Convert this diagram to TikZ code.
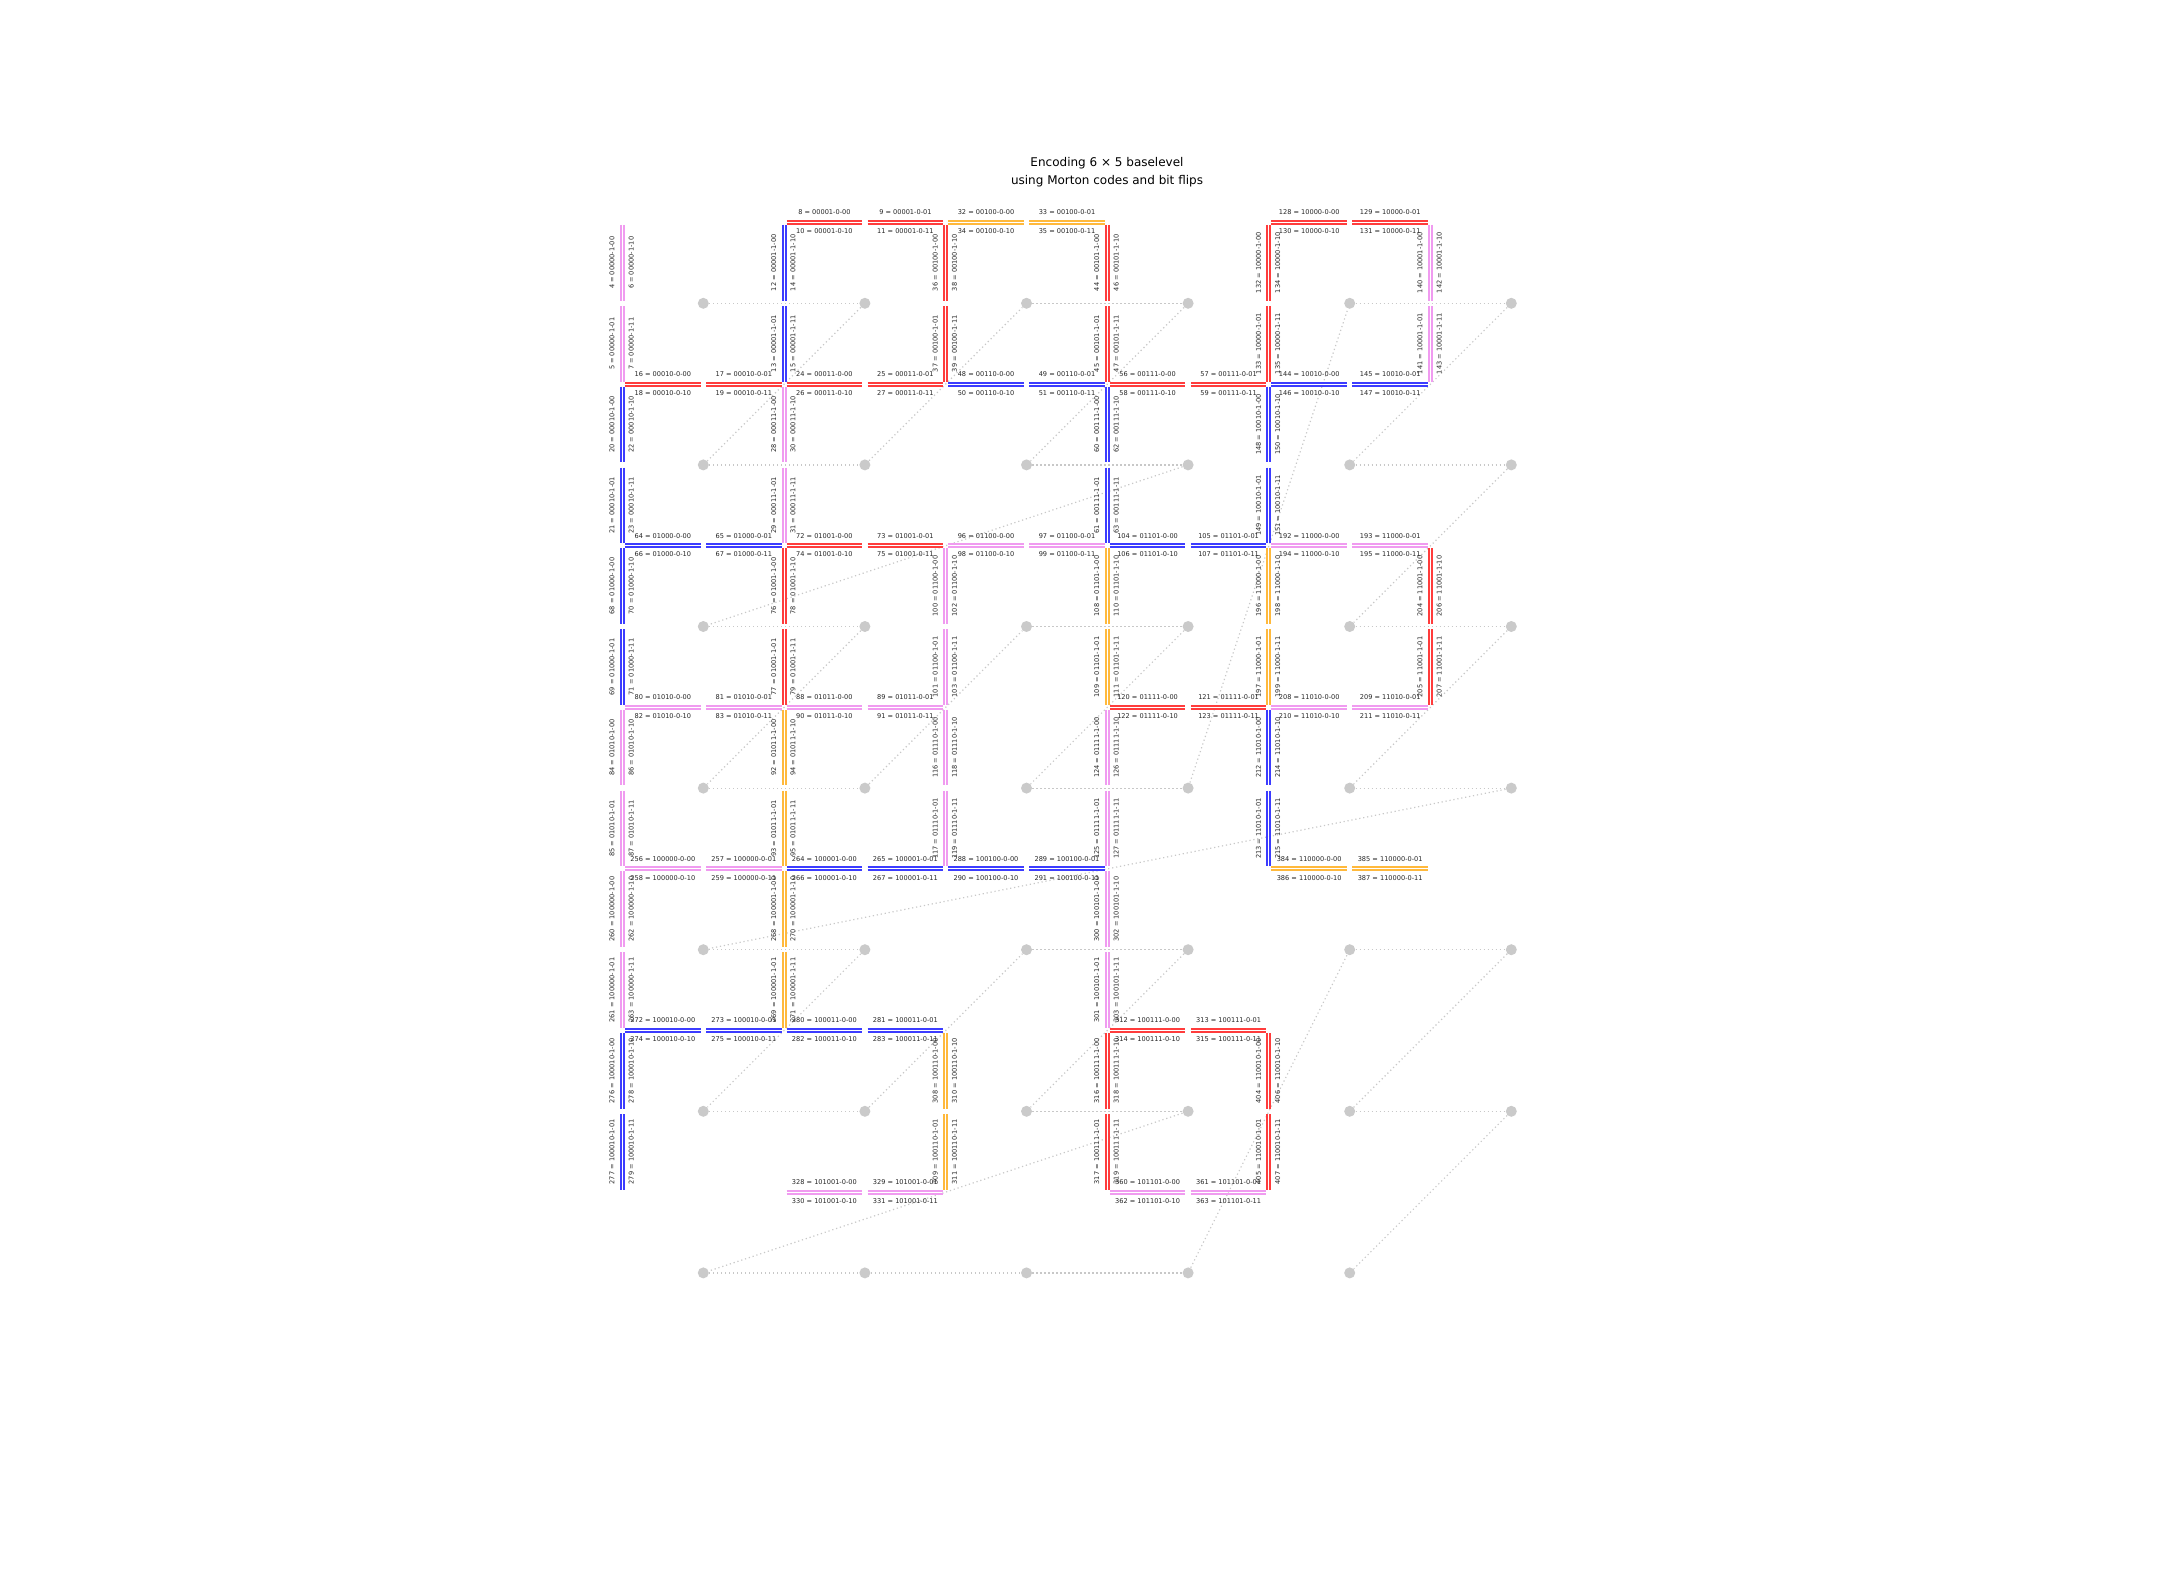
\documentclass[tikz,border=0pt]{standalone}
\usepackage{fontspec}
\setmainfont{DejaVu Sans}
\definecolor{ered}{RGB}{255,60,60}
\definecolor{eblue}{RGB}{60,60,255}
\definecolor{eviol}{RGB}{240,155,240}
\definecolor{eorng}{RGB}{255,185,60}
\definecolor{dotgray}{RGB}{202,202,202}
\definecolor{pathgray}{RGB}{200,200,200}
\tikzset{
  edgeline/.style={line width=1pt},
  lab/.style={font=\fontsize{3.3pt}{4pt}\selectfont, inner sep=0pt, text=black!85},
  griddot/.style={circle, fill=dotgray, draw=none, minimum size=5.5pt, inner sep=0pt},
  pathline/.style={draw=pathgray, line width=0.6pt, dash pattern=on 0.6pt off 1.4pt},
  titletext/.style={font=\fontsize{6pt}{9pt}\selectfont, align=center, inner sep=0pt}
}
% horizontal edge: #1 cell, #2 binary, #3 column, #4 row boundary, #5 colour
\newcommand{\myhedge}[5]{%
  \pgfmathsetmacro{\edgeXa}{622.5+161.6*#3}%
  \pgfmathsetmacro{\edgeYa}{222.5+161.6*#4}%
  \pgfmathtruncatemacro{\labA}{8*#1}%
  \pgfmathtruncatemacro{\labB}{8*#1+1}%
  \pgfmathtruncatemacro{\labC}{8*#1+2}%
  \pgfmathtruncatemacro{\labD}{8*#1+3}%
  \draw[edgeline,#5] (\edgeXa+2.5,\edgeYa-1.5) -- (\edgeXa+78.1,\edgeYa-1.5);
  \draw[edgeline,#5] (\edgeXa+2.5,\edgeYa+1.5) -- (\edgeXa+78.1,\edgeYa+1.5);
  \draw[edgeline,#5] (\edgeXa+83.5,\edgeYa-1.5) -- (\edgeXa+159.1,\edgeYa-1.5);
  \draw[edgeline,#5] (\edgeXa+83.5,\edgeYa+1.5) -- (\edgeXa+159.1,\edgeYa+1.5);
  \node[lab] (lab\labA) at (\edgeXa+40.3,\edgeYa-10) {\labA{} = #2-0-00};
  \node[lab] (lab\labB) at (\edgeXa+121.3,\edgeYa-10) {\labB{} = #2-0-01};
  \node[lab] (lab\labC) at (\edgeXa+40.3,\edgeYa+8.8) {\labC{} = #2-0-10};
  \node[lab] (lab\labD) at (\edgeXa+121.3,\edgeYa+8.8) {\labD{} = #2-0-11};
}
% vertical edge: #1 cell, #2 binary, #3 column boundary, #4 row, #5 colour
\newcommand{\myvedge}[5]{%
  \pgfmathsetmacro{\edgeXa}{622.5+161.6*#3}%
  \pgfmathsetmacro{\edgeYa}{222.5+161.6*#4}%
  \pgfmathtruncatemacro{\labA}{8*#1+4}%
  \pgfmathtruncatemacro{\labB}{8*#1+5}%
  \pgfmathtruncatemacro{\labC}{8*#1+6}%
  \pgfmathtruncatemacro{\labD}{8*#1+7}%
  \draw[edgeline,#5] (\edgeXa-1.5,\edgeYa+2.5) -- (\edgeXa-1.5,\edgeYa+78.1);
  \draw[edgeline,#5] (\edgeXa+1.5,\edgeYa+2.5) -- (\edgeXa+1.5,\edgeYa+78.1);
  \draw[edgeline,#5] (\edgeXa-1.5,\edgeYa+83.5) -- (\edgeXa-1.5,\edgeYa+159.1);
  \draw[edgeline,#5] (\edgeXa+1.5,\edgeYa+83.5) -- (\edgeXa+1.5,\edgeYa+159.1);
  \node[lab,rotate=90] (lab\labA) at (\edgeXa-10.5,\edgeYa+40.3) {\labA{} = #2-1-00};
  \node[lab,rotate=90] (lab\labB) at (\edgeXa-10.5,\edgeYa+121.3) {\labB{} = #2-1-01};
  \node[lab,rotate=90] (lab\labC) at (\edgeXa+8.8,\edgeYa+40.3) {\labC{} = #2-1-10};
  \node[lab,rotate=90] (lab\labD) at (\edgeXa+8.8,\edgeYa+121.3) {\labD{} = #2-1-11};
}
\begin{document}
\begin{tikzpicture}[x=0.5pt,y=-0.5pt]
\useasboundingbox (0,0) rectangle (2160,1584);
\fill[white] (0,0) rectangle (2160,1584);
\node[titletext] (title) at (1107,172) {Encoding 6 × 5 baselevel\\using Morton codes and bit flips};
% grid points in Morton order
\foreach \px/\py [count=\k from 0] in {0/0,1/0,0/1,1/1,2/0,3/0,2/1,3/1,0/2,1/2,0/3,1/3,2/2,3/2,2/3,3/3,4/0,5/0,4/1,5/1,4/2,5/2,4/3,5/3,0/4,1/4,0/5,1/5,2/4,3/4,2/5,3/5,0/6,1/6,2/6,3/6,4/4,5/4,4/5,5/5,4/6}
  \node[griddot] (m\k) at ({703.3+161.6*\px},{303.3+161.6*\py}) {};
\foreach \k [evaluate=\k as \kn using int(\k+1)] in {0,...,39}
  \draw[pathline] (m\k) -- (m\kn);
% horizontal edges
\myhedge{1}{00001}{1}{0}{ered}
\myhedge{4}{00100}{2}{0}{eorng}
\myhedge{16}{10000}{4}{0}{ered}
\myhedge{2}{00010}{0}{1}{ered}
\myhedge{3}{00011}{1}{1}{ered}
\myhedge{6}{00110}{2}{1}{eblue}
\myhedge{7}{00111}{3}{1}{ered}
\myhedge{18}{10010}{4}{1}{eblue}
\myhedge{8}{01000}{0}{2}{eblue}
\myhedge{9}{01001}{1}{2}{ered}
\myhedge{12}{01100}{2}{2}{eviol}
\myhedge{13}{01101}{3}{2}{eblue}
\myhedge{24}{11000}{4}{2}{eviol}
\myhedge{10}{01010}{0}{3}{eviol}
\myhedge{11}{01011}{1}{3}{eviol}
\myhedge{15}{01111}{3}{3}{ered}
\myhedge{26}{11010}{4}{3}{eviol}
\myhedge{32}{100000}{0}{4}{eviol}
\myhedge{33}{100001}{1}{4}{eblue}
\myhedge{36}{100100}{2}{4}{eblue}
\myhedge{48}{110000}{4}{4}{eorng}
\myhedge{34}{100010}{0}{5}{eblue}
\myhedge{35}{100011}{1}{5}{eblue}
\myhedge{39}{100111}{3}{5}{ered}
\myhedge{41}{101001}{1}{6}{eviol}
\myhedge{45}{101101}{3}{6}{eviol}
% vertical edges
\myvedge{0}{00000}{0}{0}{eviol}
\myvedge{2}{00010}{0}{1}{eblue}
\myvedge{8}{01000}{0}{2}{eblue}
\myvedge{10}{01010}{0}{3}{eviol}
\myvedge{32}{100000}{0}{4}{eviol}
\myvedge{34}{100010}{0}{5}{eblue}
\myvedge{1}{00001}{1}{0}{eblue}
\myvedge{3}{00011}{1}{1}{eviol}
\myvedge{9}{01001}{1}{2}{ered}
\myvedge{11}{01011}{1}{3}{eorng}
\myvedge{33}{100001}{1}{4}{eorng}
\myvedge{4}{00100}{2}{0}{ered}
\myvedge{12}{01100}{2}{2}{eviol}
\myvedge{14}{01110}{2}{3}{eviol}
\myvedge{38}{100110}{2}{5}{eorng}
\myvedge{5}{00101}{3}{0}{ered}
\myvedge{7}{00111}{3}{1}{eblue}
\myvedge{13}{01101}{3}{2}{eorng}
\myvedge{15}{01111}{3}{3}{eviol}
\myvedge{37}{100101}{3}{4}{eviol}
\myvedge{39}{100111}{3}{5}{ered}
\myvedge{16}{10000}{4}{0}{ered}
\myvedge{18}{10010}{4}{1}{eblue}
\myvedge{24}{11000}{4}{2}{eorng}
\myvedge{26}{11010}{4}{3}{eblue}
\myvedge{50}{110010}{4}{5}{ered}
\myvedge{17}{10001}{5}{0}{eviol}
\myvedge{25}{11001}{5}{2}{ered}
\end{tikzpicture}
\end{document}
